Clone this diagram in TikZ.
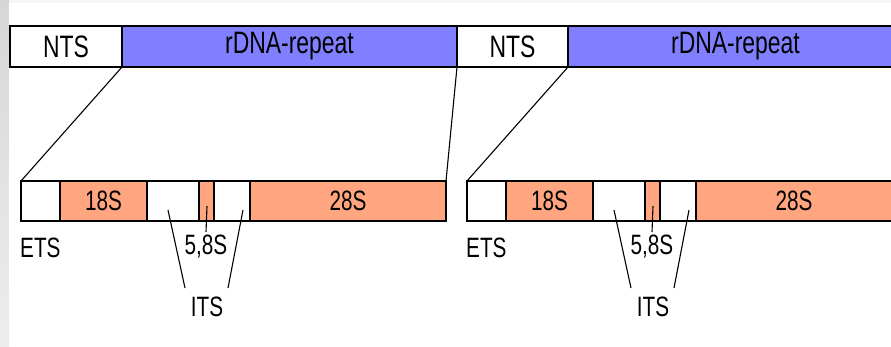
\documentclass[tikz,border=0pt]{standalone}
\usepackage{fontspec}
\setmainfont[FakeStretch=0.74]{Liberation Sans}
\definecolor{repblue}{RGB}{128,128,255}
\definecolor{salmon}{RGB}{255,166,128}
\begin{document}
\begin{tikzpicture}[x=1pt,y=-1pt,
  seg/.style={draw=black, line width=2.5pt, outer sep=0pt, inner sep=0pt,
    anchor=north west, font=\fontsize{31}{32}\selectfont},
  topseg/.style={seg, minimum height=41pt},
  botseg/.style={seg, minimum height=40pt, font=\fontsize{28}{29}\selectfont},
  lbl/.style={inner sep=0pt, font=\fontsize{28}{29}\selectfont},
  conn/.style={draw=black, line width=1.1pt}]
\useasboundingbox (0,0) rectangle (891,346);
\fill[gray!8] (0,0) rectangle (891,346);
\shade[top color=gray!32, bottom color=gray!14] (0,0) rectangle (9,346);
\fill[white] (9,3) rectangle (891,346);
\begin{scope}
\clip (0,0) rectangle (891,346);
% top bar
\node[topseg, fill=white, minimum width=112pt] (nts1) at (10,26) {NTS};
\node[topseg, fill=repblue, minimum width=335pt] (rep1) at (122,26) {rDNA-repeat};
\node[topseg, fill=white, minimum width=111pt] (nts2) at (457,26) {NTS};
\node[topseg, fill=repblue, minimum width=335pt] (rep2) at (568,26) {rDNA-repeat};
% bottom bars
\foreach \o/\n in {0/a,446/b}{
  \node[botseg, fill=white, minimum width=39pt] (ets\n) at (21+\o,181) {};
  \node[botseg, fill=salmon, minimum width=87pt] (sa\n) at (60+\o,181) {18S};
  \node[botseg, fill=white, minimum width=52pt] (itsa\n) at (147+\o,181) {};
  \node[botseg, fill=salmon, minimum width=15pt] (sb\n) at (199+\o,181) {};
  \node[botseg, fill=white, minimum width=36pt] (itsb\n) at (214+\o,181) {};
  \node[botseg, fill=salmon, minimum width=196pt] (sc\n) at (250+\o,181) {28S};
  \node[lbl, anchor=west] (etsl\n) at (20+\o,248) {ETS};
  \node[lbl] (s58l\n) at (206+\o,247) {5,8S};
  \node[lbl] (itsl\n) at (207+\o,307) {ITS};
  \coordinate (p1\n) at (168+\o,210);
  \coordinate (q1\n) at (185+\o,288);
  \coordinate (p2\n) at (243+\o,210);
  \coordinate (q2\n) at (228+\o,288);
  \coordinate (p3\n) at (207+\o,206);
  \coordinate (q3\n) at (206+\o,232);
  \draw[conn] (p1\n) -- (q1\n);
  \draw[conn] (p2\n) -- (q2\n);
  \draw[conn] (p3\n) -- (q3\n);
}
% expansion connectors
\draw[conn] (rep1.south west) -- (etsa.north west);
\draw[conn] (rep1.south east) -- (sca.north east);
\draw[conn] (nts2.south east) -- (etsb.north west);
\end{scope}
\end{tikzpicture}
\end{document}
